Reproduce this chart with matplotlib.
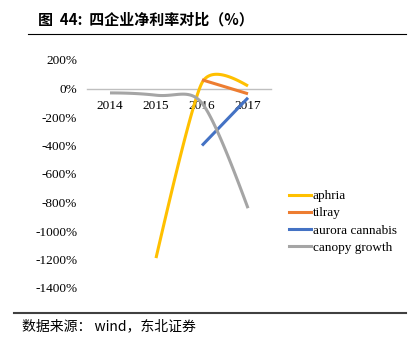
import numpy as np
import matplotlib
matplotlib.use('Agg')
import matplotlib.pyplot as plt
from matplotlib.lines import Line2D

years = ['2014', '2015', '2016', '2017']
aphria = [None, -1190, 40, 18]
tilray = [None, None, 61, -37]
aurora = [None, None, -400, -65]
canopy = [-31, -47, -103, -840]
names = ['aphria', 'tilray', 'aurora cannabis', 'canopy growth']
colors = ['#FFC000', '#ED7D31', '#4472C4', '#A5A5A5']
yticks = list(range(200, -1401, -200))

serif = ['Liberation Serif', 'Noto Sans CJK SC', 'DejaVu Sans']
cjk = ['Noto Sans CJK SC', 'Liberation Serif', 'DejaVu Sans']

# axes box in pixels
AX_L, AX_T, AX_W, AX_H = 87, 60, 184, 228
XMIN, XMAX, YMIN, YMAX = -0.5, 3.5, -1400, 200
SX = AX_W / (XMAX - XMIN)
SY = AX_H / (YMAX - YMIN)


def smooth(xs, ys, n=40, t=0.43):
	# excel-like smoothed line; tangent length limited by the shorter neighbour chord (pixels)
	pts = np.array([[x * SX, y * SY] for x, y in zip(xs, ys)], dtype=float)
	if len(pts) < 3:
		return np.array(xs, float), np.array(ys, float)
	m = len(pts)
	cin = pts.copy()
	cout = pts.copy()
	for i in range(1, m - 1):
		d01 = np.hypot(*(pts[i] - pts[i - 1]))
		d12 = np.hypot(*(pts[i + 1] - pts[i]))
		tang = pts[i + 1] - pts[i - 1]
		tang = tang / np.hypot(*tang)
		k = t * min(d01, d12)
		cin[i] = pts[i] - k * tang
		cout[i] = pts[i] + k * tang
	cout[0] = pts[0] + (cin[1] - pts[0]) / 3
	cin[-1] = pts[-1] + (cout[-2] - pts[-1]) / 3
	outx, outy = [], []
	u = np.linspace(0, 1, n)[:, None]
	for i in range(m - 1):
		p1, c1, c2, p2 = pts[i], cout[i], cin[i + 1], pts[i + 1]
		b = (1 - u) ** 3 * p1 + 3 * (1 - u) ** 2 * u * c1 + 3 * (1 - u) * u ** 2 * c2 + u ** 3 * p2
		outx.extend(b[:, 0] / SX)
		outy.extend(b[:, 1] / SY)
	return np.array(outx), np.array(outy)


fig = plt.figure(figsize=(4.19, 3.52), dpi=100)
ax = fig.add_axes([AX_L / 419, 1 - (AX_T + AX_H) / 352, AX_W / 419, AX_H / 352])

for vals, name, c in zip([aphria, tilray, aurora, canopy], names, colors):
	xs = [i for i, v in enumerate(vals) if v is not None]
	ys = [v for v in vals if v is not None]
	sx, sy = smooth(xs, ys)
	ax.plot(sx, sy, color=c, lw=2.2, solid_capstyle='butt', label=name, zorder=3)

ax.set_xlim(XMIN, XMAX)
ax.set_ylim(YMIN, YMAX)
for s in ['top', 'right', 'left']:
	ax.spines[s].set_visible(False)
ax.spines['bottom'].set_position(('data', 0))
ax.spines['bottom'].set_color('#BFBFBF')
ax.spines['bottom'].set_linewidth(1.0)
ax.set_xticks(range(len(years)))
ax.set_xticklabels(years, family=serif, fontsize=9.5)
ax.tick_params(axis='x', length=0, pad=8)
ax.set_yticks(yticks)
ax.set_yticklabels(['{}%'.format(v) for v in yticks], family=serif, fontsize=9.5)
ax.tick_params(axis='y', length=0, pad=7)

handles = [Line2D([], [], color=c, lw=2.2) for c in colors]
fig.legend(handles, names, loc='upper left', bbox_to_anchor=(289 / 419, 1 - 190 / 352),
	frameon=False, prop={'family': serif, 'size': 9.5}, handlelength=1.7,
	handletextpad=0.1, labelspacing=0.38, borderaxespad=0, borderpad=0)

fig.text(38 / 419, 1 - 20 / 352, '图  44:  四企业净利率对比（%）', family=cjk,
	fontsize=10.8, fontweight='bold', va='center', ha='left')
fig.add_artist(Line2D([28 / 419, 406 / 419], [1 - 34 / 352, 1 - 34 / 352], color='black', lw=0.8))
fig.add_artist(Line2D([14 / 419, 406 / 419], [1 - 313 / 352, 1 - 313 / 352], color='#404040', lw=1.5))
fig.text(22 / 419, 1 - 326 / 352, '数据来源： wind，东北证券', family=cjk,
	fontsize=10, va='center', ha='left')

fig.savefig('out.png', dpi=100)
